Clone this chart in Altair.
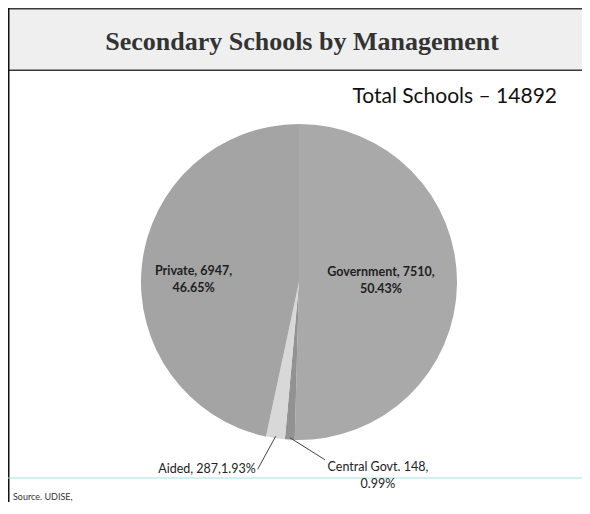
import altair as alt
import pandas as pd

# ---- data ----
names = ["Government", "Central Govt.", "Aided", "Private"]
counts = [7510, 148, 287, 6947]
colors = ["#a9a9a9", "#929292", "#d8d8d8", "#a4a4a4"]

title_text = "Secondary Schools by Management"
total_text = "Total Schools \u2013 14892"
source_text = "Source. UDISE,"

df = pd.DataFrame({"name": names, "count": counts, "rank": list(range(len(names)))})

W, H = 574, 494
CX, CY, R = 291, 274, 158
LINE = "#3a3a3a"

one = pd.DataFrame({"k": [0]})


def box(x0, x1, y0, y1, color):
    return alt.Chart(one).mark_rect(color=color).encode(
        x=alt.value(x0), x2=alt.value(x1), y=alt.value(y0), y2=alt.value(y1))


# frame / title band (drawn as thin rects)
band = box(0, W, 0, 62, "#efefef")
top_line = box(0, W, 0, 1.5, LINE)
band_line = box(0, W, 61.5, 63, LINE)
left_line = box(0, 1.5, 0, H, "#111111")
cyan_line = box(0, W, 469.5, 470.5, "#a6e0ec")

title = alt.Chart(one).mark_text(
    font="Liberation Serif", fontSize=26, fontWeight="bold", color="#333333",
    align="center", baseline="alphabetic").encode(
    x=alt.value(294), y=alt.value(42), text=alt.value(title_text))
total = alt.Chart(one).mark_text(
    font="Lato", fontSize=21, color="#111111", align="right", baseline="alphabetic").encode(
    x=alt.value(549), y=alt.value(95), text=alt.value(total_text))
source = alt.Chart(one).mark_text(
    font="Lato", fontSize=9, color="#333333", align="left", baseline="alphabetic").encode(
    x=alt.value(5), y=alt.value(492), text=alt.value(source_text))

base = alt.Chart(df)

pie = base.mark_arc(outerRadius=R).encode(
    theta=alt.Theta("count:Q", stack=True),
    order=alt.Order("rank:Q"),
    color=alt.Color("name:N", scale=alt.Scale(domain=names, range=colors), legend=None),
    x=alt.value(CX), y=alt.value(CY),
)

lab = (base.transform_joinaggregate(total="sum(count)")
       .transform_window(cum="sum(count)", sort=[alt.SortField("rank")], frame=[None, 0])
       .transform_calculate(
           mid="(datum.cum - datum.count/2)/datum.total*2*PI",
           pct="format(datum.count/datum.total, '.2%')"))


def at_radius(ch, r, fx="px", fy="py"):
    return ch.transform_calculate(**{
        fx: f"{CX} + {r}*sin(datum.mid)",
        fy: f"{CY} - {r}*cos(datum.mid)",
    })


def pos(fx, fy):
    return dict(x=alt.X(f"{fx}:Q", scale=None, axis=None),
                y=alt.Y(f"{fy}:Q", scale=None, axis=None))


inner_expr = "datum.name + ', ' + datum.count + ',\\n' + datum.pct"

priv = at_radius(lab.transform_filter(alt.datum.name == "Private"), 106).transform_calculate(
    label=inner_expr).mark_text(
    font="Lato", fontSize=12.5, fontWeight="bold", color="#1e1e1e", lineBreak="\n",
    lineHeight=17, align="center", baseline="middle").encode(text="label:N", **pos("px", "py"))

gov = at_radius(lab.transform_filter(alt.datum.name == "Government"), 82).transform_calculate(
    label=inner_expr).mark_text(
    font="Lato", fontSize=12.5, fontWeight="bold", color="#1e1e1e", lineBreak="\n",
    lineHeight=17, align="center", baseline="middle", dy=-11).encode(text="label:N", **pos("px", "py"))

# Aided: leader line + label
aided_base = at_radius(lab.transform_filter(alt.datum.name == "Aided"), R - 2).transform_calculate(
    ex="datum.px - 18", ey="datum.py + 33",
    label="datum.name + ', ' + datum.count + ',' + datum.pct")
aided_line = aided_base.mark_rule(color="#444444", strokeWidth=1).encode(
    x=alt.X("px:Q", scale=None, axis=None), y=alt.Y("py:Q", scale=None, axis=None),
    x2="ex:Q", y2="ey:Q")
aided_text = aided_base.mark_text(
    font="Lato", fontSize=12.5, color="#222222", align="right", baseline="middle", dx=-2).encode(
    text="label:N", **pos("ex", "ey"))

# Central Govt: leader line + label
cg_base = at_radius(lab.transform_filter(alt.datum.name == "Central Govt."), R - 2).transform_calculate(
    ex="datum.px + 35", ey="datum.py + 22",
    label="datum.name + ' ' + datum.count + ',\\n' + datum.pct")
cg_line = cg_base.mark_rule(color="#444444", strokeWidth=1).encode(
    x=alt.X("px:Q", scale=None, axis=None), y=alt.Y("py:Q", scale=None, axis=None),
    x2="ex:Q", y2="ey:Q")
cg_text = cg_base.mark_text(
    font="Lato", fontSize=12.5, color="#222222", align="center", baseline="middle",
    lineBreak="\n", lineHeight=17, dx=53, dy=7).encode(text="label:N", **pos("ex", "ey"))

chart = alt.layer(
    band, top_line, band_line, left_line, cyan_line, title, total, source,
    pie, priv, gov, aided_line, aided_text, cg_line, cg_text,
).properties(
    width=W, height=H, autosize=alt.AutoSizeParams(type="none"), padding=0,
).configure_view(stroke=None, strokeWidth=0)

chart.save("out.html", embed_options={"renderer": "svg", "actions": False})
